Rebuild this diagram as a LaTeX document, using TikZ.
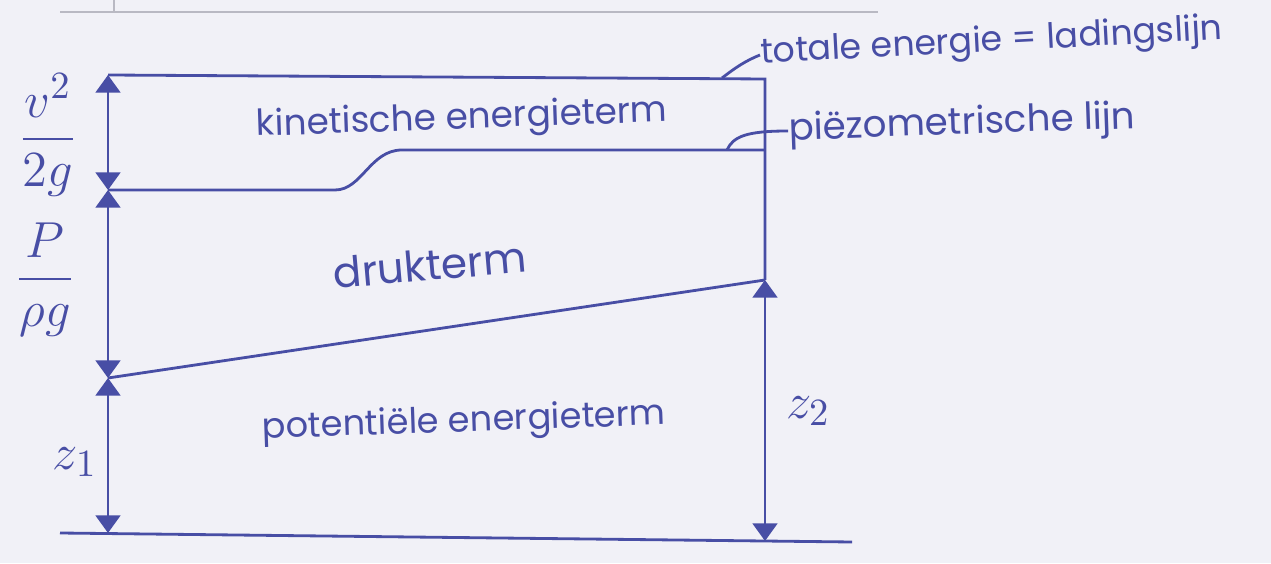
\documentclass[tikz,border=0pt]{standalone}
\usepackage{amsmath}
\usepackage{fontspec}
\setmainfont{Poppins}
\usetikzlibrary{arrows.meta}
\definecolor{ink}{RGB}{72,78,165}
\definecolor{paper}{RGB}{241,241,247}
\definecolor{ruling}{RGB}{185,185,195}
\newcommand{\fs}[1]{\fontsize{#1}{1.2\dimexpr#1pt\relax}\selectfont}
\begin{document}
\begin{tikzpicture}[
  pen/.style={draw=ink, line width=0.8pt},
  tip/.tip={Triangle[width=7pt,length=5pt]},
  dimline/.style={pen, tip-tip},
  lbl/.style={text=ink, inner sep=0pt},
  mathlbl/.style={text=ink, inner sep=0pt, font=\fs{15}}
]
\fill[paper] (0,0) rectangle (12.71,5.63);
\useasboundingbox (0,0) rectangle (12.71,5.63);

% faint ruling left over at the top edge
\draw[ruling, line width=0.6pt] (0.60,5.51) -- (8.78,5.51);
\draw[ruling, line width=0.6pt] (1.14,5.63) -- (1.14,5.51);

% reference points on the left and right verticals
\coordinate (A1) at (1.08,4.88);
\coordinate (L1) at (1.08,3.73);
\coordinate (L2) at (1.08,1.85);
\coordinate (L3) at (1.08,0.30);
\coordinate (TR) at (7.65,4.84);
\coordinate (PR) at (7.65,4.13);
\coordinate (R2) at (7.65,2.83);
\coordinate (R3) at (7.65,0.22);
\coordinate (G0) at (0.60,0.30);
\coordinate (G1) at (8.52,0.21);

% datum
\draw[pen] (G0) -- (G1);

% energy line and right vertical
\draw[pen] (A1) -- (TR) -- (R2);

% piezometric line with the step
\draw[pen] (L1) -- (3.35,3.73) .. controls (3.62,3.73) and (3.70,4.13) .. (4.02,4.13) -- (PR);

% bed line
\draw[pen] (L2) -- (R2);

% height dimensions
\draw[dimline] (L1) -- (A1);
\draw[dimline] (L2) -- (L1);
\draw[dimline] (L3) -- (L2);
\draw[dimline] (R2) -- (R3);

% term labels
\node[lbl, font=\fs{10.2}, rotate=2] (kin) at (4.62,4.43) {kinetische energieterm};
\node[lbl, font=\fs{12}, rotate=5] (druk) at (4.30,2.98) {drukterm};
\node[lbl, font=\fs{10}, rotate=2] (pot) at (4.64,1.40) {potentiële energieterm};

% term symbols
\node[mathlbl] (vterm) at (0.48,4.28) {$\dfrac{v^2}{2g}$};
\node[mathlbl] (pterm) at (0.45,2.83) {$\dfrac{P}{\rho g}$};
\node[mathlbl] (z1) at (0.75,1.01) {$z_1$};
\node[mathlbl] (z2) at (8.08,1.52) {$z_2$};

% line names with leaders
\node[lbl, font=\fs{9.9}, anchor=west, rotate=3] (tot) at (7.60,5.08) {totale energie = ladingslijn};
\node[lbl, font=\fs{10.6}, anchor=west, rotate=2] (pz) at (7.88,4.32) {piëzometrische lijn};
\coordinate (ctop) at (7.22,4.85);
\coordinate (cpz) at (7.27,4.13);
\draw[pen] (ctop) .. controls (7.35,4.95) and (7.45,5.02) .. (tot.west);
\draw[pen] (cpz) .. controls (7.33,4.26) and (7.45,4.32) .. (pz.west);
\end{tikzpicture}
\end{document}
